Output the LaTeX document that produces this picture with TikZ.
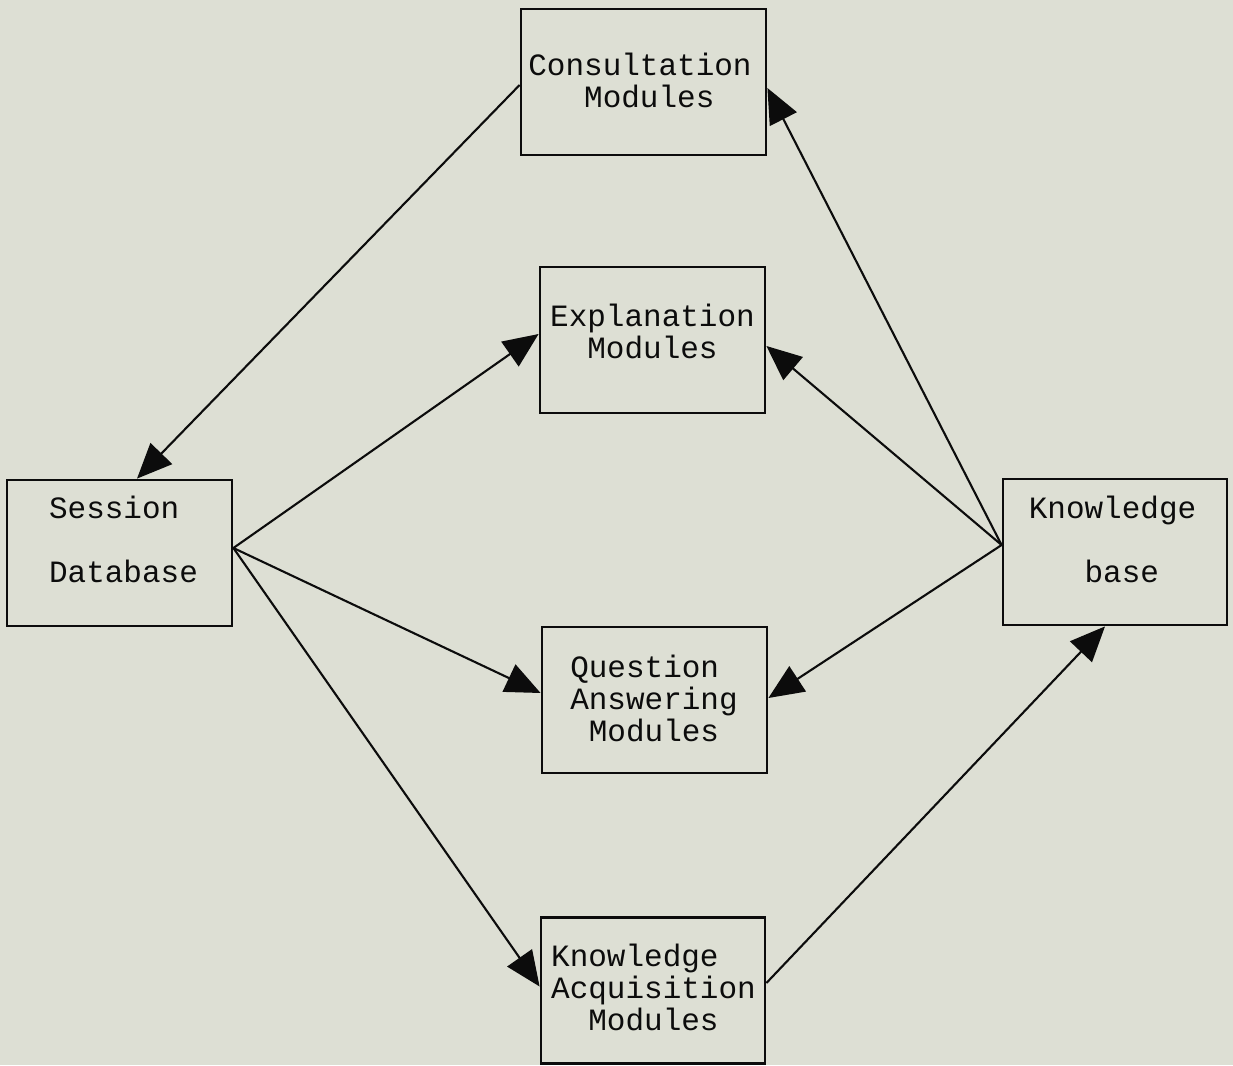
\documentclass[tikz,border=0pt]{standalone}
\usepackage{fontspec}
\setmonofont{Liberation Mono}
\usetikzlibrary{arrows.meta}
\definecolor{paper}{RGB}{221,223,212}
\definecolor{ink}{RGB}{12,12,12}
\tikzset{
  modbox/.style={draw=ink, line width=2.8pt, minimum width=#1, minimum height=146pt, inner sep=0pt},
  modbox/.default=225pt,
  lbl/.style={font=\fontsize{31}{32}\selectfont\ttfamily, text=ink, inner sep=0pt},
  conn/.style={draw=ink, line width=2.1pt, -{Triangle[length=35pt,width=30pt]}}
}
\begin{document}
\begin{tikzpicture}[x=1pt,y=-1pt]
\useasboundingbox (0,0) rectangle (1233,1065);
\fill[paper] (0,0) rectangle (1233,1065);

% boxes
\node[modbox=245pt] (cons) at (643.5,82) {};
\node[modbox] (expl) at (652.5,340) {};
\node[modbox] (sess) at (119.5,553) {};
\node[modbox=224pt] (kb) at (1115,552) {};
\node[modbox] (ques) at (654.5,700) {};
\node[modbox=224pt] (ka) at (653,990.5) {};

% texts
\node[lbl, align=center] (const) at (640,80) {Consultation\\\hspace*{18.6pt}Modules};
\node[lbl, align=center] (explt) at (652.5,331.5) {Explanation\\Modules};
\node[lbl, align=left] (sesst) at (123.5,539) {Session\\[32pt]Database};
\node[lbl, align=left] (kbt) at (1112.5,539.5) {Knowledge\\[32pt]\hspace*{55.8pt}base};
\node[lbl, align=center] (quest) at (654,698) {Question\hspace*{18.6pt}\\Answering\\Modules};
\node[lbl, align=center] (kat) at (653.5,987.5) {Knowledge\hspace*{37.2pt}\\Acquisition\\Modules};

% connectors
\draw[conn] ([yshift=-3pt]cons.west) -- ([xshift=17.5pt]sess.north);
\draw[conn] ([yshift=5pt]sess.east) -- ([yshift=6pt]expl.west);
\draw[conn] ([yshift=5pt]sess.east) -- ([yshift=7pt]ques.west);
\draw[conn] ([yshift=5pt]sess.east) -- ([yshift=4pt]ka.west);
\draw[conn] ([yshift=7pt]kb.west) -- ([yshift=-6pt]cons.east);
\draw[conn] ([yshift=7pt]kb.west) -- ([yshift=-6pt]expl.east);
\draw[conn] ([yshift=7pt]kb.west) -- ([yshift=2pt]ques.east);
\draw[conn] ([yshift=7.5pt]ka.east) -- ([xshift=-10pt]kb.south);
\end{tikzpicture}
\end{document}
